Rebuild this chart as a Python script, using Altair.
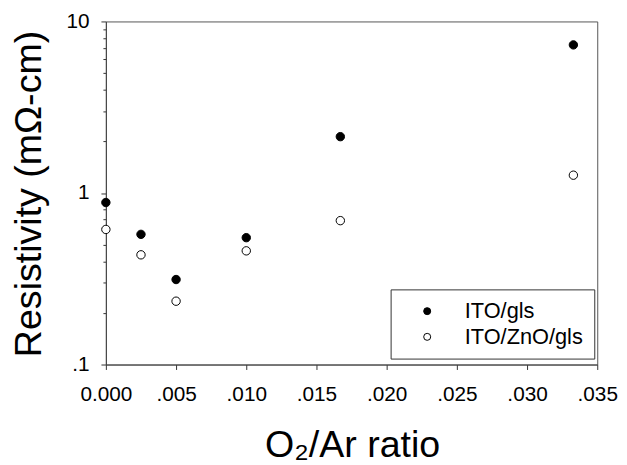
import altair as alt
import pandas as pd

ratio = [0.0, 0.0025, 0.005, 0.010, 0.0167, 0.0333]
ito_gls = [0.88, 0.574, 0.313, 0.549, 2.13, 7.3]
ito_zno_gls = [0.613, 0.436, 0.234, 0.46, 0.69, 1.27]
series = ["ITO/gls", "ITO/ZnO/gls"]

x_ticks = [0.0, 0.005, 0.010, 0.015, 0.020, 0.025, 0.030, 0.035]
y_ticks = [0.1, 0.2, 0.3, 0.4, 0.5, 0.6, 0.7, 0.8, 0.9,
           1, 2, 3, 4, 5, 6, 7, 8, 9, 10]

rows = []
for r, a, b in zip(ratio, ito_gls, ito_zno_gls):
    rows.append({"ratio": r, "res": a, "series": series[0]})
    rows.append({"ratio": r, "res": b, "series": series[1]})
df = pd.DataFrame(rows)

FONT = "Liberation Sans"

ylab = ("abs(datum.value-0.1)<0.001 ? '.1' : (abs(datum.value-1)<0.001 ? '1' : "
        "(abs(datum.value-10)<0.001 ? '10' : ''))")
major_test = ("abs(datum.value-0.1)<0.001 || abs(datum.value-1)<0.001 || "
              "abs(datum.value-10)<0.001")

chart = alt.Chart(df).mark_circle(size=72, opacity=1, stroke="black", strokeWidth=1).encode(
    x=alt.X("ratio:Q",
            scale=alt.Scale(domain=[0, 0.035], nice=False, zero=False),
            axis=alt.Axis(values=x_ticks, title="O₂/Ar ratio",
                          labelExpr="datum.value == 0 ? '0.000' : replace(format(datum.value, '.3f'), '0.', '.')",
                          grid=False, ticks=True, tickSize=5, tickWidth=1, labelPadding=14,
                          labelFlush=False,
                          labelFontSize=21, labelFont=FONT, labelColor="black",
                          domainColor="#444", tickColor="#333",
                          titleFont=FONT, titleFontSize=38, titleFontWeight="normal",
                          titleColor="black", titleX=249, titleY=93,
                          titleAlign="center", titleBaseline="alphabetic",
                          labelOverlap=False)),
    y=alt.Y("res:Q",
            scale=alt.Scale(type="log", domain=[0.1, 10], nice=False),
            axis=alt.Axis(values=y_ticks, title="Resistivity (mΩ-cm)",
                          labelExpr=ylab, grid=False, ticks=True, tickWidth=1,
                          tickSize={"condition": {"test": major_test, "value": 5}, "value": 3},
                          labelFlush=False,
                          labelPadding=12, labelFontSize=21, labelFont=FONT,
                          labelColor="black", domainColor="#444", tickColor="#333",
                          titleFont=FONT, titleFontSize=38, titleFontWeight="normal",
                          titleColor="black", titleAngle=270, titleX=-66, titleY=174,
                          titleAlign="center", titleBaseline="alphabetic",
                          labelOverlap=False)),
    fill=alt.Fill("series:N",
                  scale=alt.Scale(domain=series, range=["black", "white"]),
                  legend=alt.Legend(title=None, orient="none", legendX=288, legendY=271,
                                    padding=11, strokeColor="#333",
                                    symbolType="circle", symbolSize=50,
                                    symbolStrokeColor="black", symbolStrokeWidth=1,
                                    symbolOffset=15, labelOffset=27,
                                    labelFont=FONT, labelFontSize=22, labelColor="black",
                                    rowPadding=4)),
).properties(
    width=497, height=347,
    autosize=alt.AutoSizeParams(type="none"),
    padding={"left": 99, "top": 11, "right": 22, "bottom": 98},
).configure_view(stroke="#555", strokeWidth=1)

chart.save("out.html", embed_options={"renderer": "svg", "actions": False})
